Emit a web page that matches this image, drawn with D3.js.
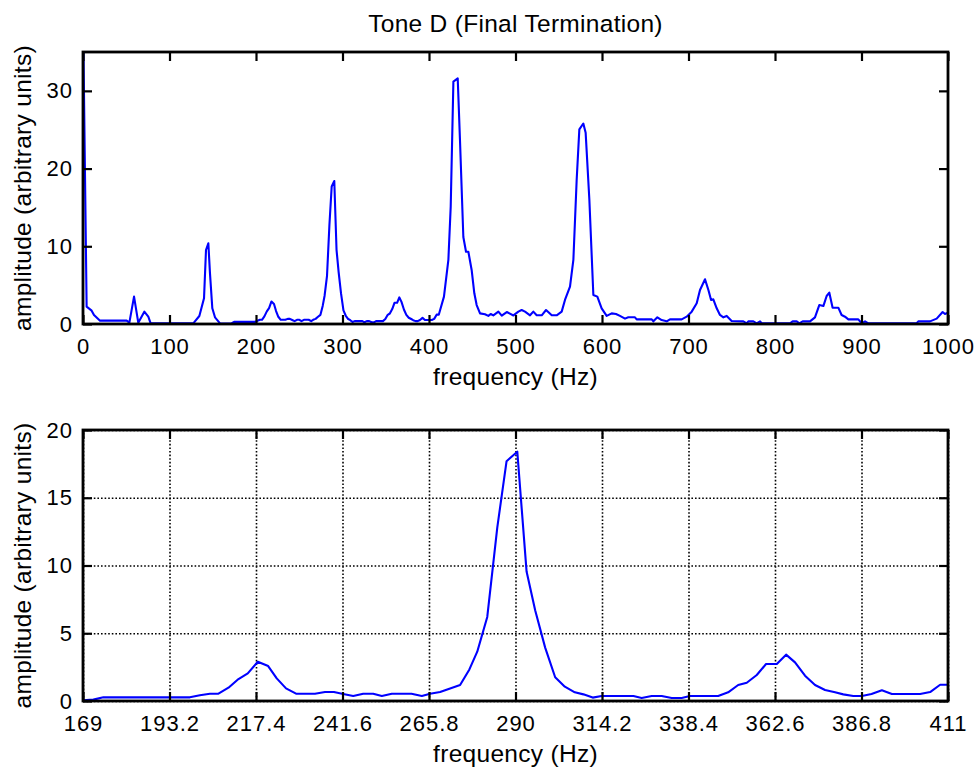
<!DOCTYPE html>
<html>
<head>
<meta charset="utf-8">
<script src="https://cdn.jsdelivr.net/npm/d3@7"></script>
<style>
body { margin: 0; background: #fff; }
svg { font-family: "Liberation Sans", Arial, sans-serif; background: #fff; }
.frame { fill: none; stroke: #000; stroke-width: 2.8; }
.axis .domain { display: none; }
.axis .tick line { stroke: #000; stroke-width: 2.2; }
.axis .tick text { font-size: 22px; letter-spacing: 1px; fill: #000; font-family: "Liberation Sans", Arial, sans-serif; }
.grid .domain { display: none; }
.grid .tick line { stroke: #000; stroke-width: 1.6; stroke-dasharray: 1.6,2; }
.spectrum { fill: none; stroke: #0000ff; stroke-width: 2.1; stroke-linejoin: round; }
.label { font-size: 24.5px; letter-spacing: 0.3px; fill: #000; }
</style>
</head>
<body>
<div id="chart-container"></div>
<script>
// spectrum (Hz, amplitude)
var freq = [0, 4.2, 10, 12.7, 19.7, 50.5, 53.6, 59.0, 63.9, 70.9, 75.5, 78.2, 127.5, 134.5, 139.9, 142.2, 144.9, 146.8, 149.5, 152.6, 158.4,
  169.0, 171.9, 174.7, 198.9, 201.7, 204.5, 206.9, 209.7, 212.5, 215.1, 217.9, 220.8, 223.2, 225.8, 228.6, 233.9, 236.7, 239.2, 241.8,
  244.6, 247.4, 250.2, 252.6, 255.4, 260.9, 263.8, 266.1, 268.9, 271.7, 274.5, 277.1, 279.3, 282.1, 284.9, 287.5, 290.5, 293.1, 295.5,
  298.3, 301.1, 303.8, 306.6, 309.0, 311.6, 314.1, 323.0, 325.3, 328.1, 330.9, 333.7, 336.5, 338.8, 346.7, 349.5, 352.3, 354.7, 357.5,
  360.1, 363.1, 365.7, 368.2, 371.0, 373.8, 376.6, 379.4, 381.7, 384.5, 386.9, 389.6, 392.5, 395.3, 403.2, 406.0, 408.8, 411.3,
  417.3, 422.4, 425.1, 428.2, 433.2, 435.8, 439.7, 442.8, 445.5, 449.3, 452.4, 455.1, 459.0, 464.7, 468.6, 471.3, 474.4, 480.2, 484.1,
  489.9, 497.6, 503.3, 507.1, 511.0, 516.8, 520.6, 524.5, 530.3, 535.3, 541.9, 547.6, 553.4, 557.2, 563.0, 566.9, 570.7, 573.8, 578.4,
  581.1, 585.4, 590.0, 594.6, 599.6, 605.4, 611.2, 616.2, 620.8, 626.6, 630.4, 638.1, 640.1, 657.5, 659.4, 664.0, 669.0, 674.8, 678.6,
  692.1, 697.9, 703.7, 709.5, 713.3, 719.1, 723.0, 726.1, 728.7, 732.6, 736.4, 740.3, 744.2, 749.9, 763.4, 767.3, 769.2, 775.0, 778.8,
  782.7, 784.6, 817.4, 820.4, 825.1, 828.1, 832.0, 840.5, 846.2, 851.2, 855.9, 859.7, 862.8, 866.6, 873.2, 877.0, 880.9, 884.8, 896.3,
  900.2, 904.1, 907.9, 963.8, 965.7, 979.2, 986.9, 993.8, 996.5, 1000];
var amp = [40, 2.23, 1.72, 1.16, 0.43, 0.43, 0.17, 3.52, 0.17, 1.59, 0.94, 0.09, 0.09, 1.03, 3.3, 9.52, 10.39, 6.52, 2.02, 0.86, 0.09,
  0.05, 0.10, 0.27, 0.27, 0.42, 0.54, 0.54, 0.98, 1.62, 2.04, 2.90, 2.58, 1.67, 0.93, 0.54, 0.54, 0.66, 0.66, 0.52,
  0.37, 0.54, 0.54, 0.37, 0.54, 0.54, 0.37, 0.54, 0.66, 0.93, 1.18, 2.33, 3.64, 6.2, 12.8, 17.7, 18.4, 9.55, 6.7,
  3.94, 1.75, 1.06, 0.64, 0.49, 0.25, 0.37, 0.37, 0.22, 0.37, 0.37, 0.22, 0.22, 0.37, 0.37, 0.64, 1.18, 1.35, 1.92,
  2.73, 2.73, 3.42, 2.85, 1.87, 1.18, 0.81, 0.64, 0.49, 0.37, 0.37, 0.52, 0.79, 0.52, 0.52, 0.66, 1.20, 1.20,
  3.52, 8.24, 15.1, 31.2, 31.6, 23.7, 11.2, 9.3, 9.3, 6.95, 3.95, 2.44, 1.37, 1.25, 1.04, 1.29, 1.10, 1.59, 1.07,
  1.54, 1.10, 1.59, 1.80, 1.59, 1.12, 1.59, 1.12, 1.12, 1.80, 1.12, 1.12, 1.59, 3.09, 4.80, 8.24, 18.5, 25.05, 25.8,
  24.6, 15.96, 3.73, 3.52, 2.02, 1.04, 1.37, 1.29, 1.04, 0.69, 0.86, 0.86, 0.60, 0.60, 0.34, 0.86, 0.51, 0.34, 0.60,
  0.60, 0.94, 1.59, 2.66, 4.38, 5.75, 4.38, 3.09, 3.17, 2.02, 1.16, 0.86, 1.04, 0.39, 0.34, 0.09, 0.34, 0.34, 0.09,
  0.34, 0.09, 0.09, 0.34, 0.34, 0.09, 0.34, 0.34, 0.86, 2.44, 2.31, 3.60, 4.03, 2.10, 2.10, 1.16, 0.94, 0.60, 0.60,
  0.09, 0.34, 0.09, 0.09, 0.34, 0.34, 0.69, 1.54, 1.29, 1.46];

var fullXTicks = [0, 100, 200, 300, 400, 500, 600, 700, 800, 900, 1000];
var fullYTicks = [0, 10, 20, 30];
var zoomXTicks = [169, 193.2, 217.4, 241.6, 265.8, 290, 314.2, 338.4, 362.6, 386.8, 411];
var zoomYTicks = [0, 5, 10, 15, 20];

var titleText = "Tone D (Final Termination)";
var xLabel = "frequency (Hz)";
var yLabel = "amplitude (arbitrary units)";

var W = 979, H = 769;
var left = 83, right = 948;
var tick = 9;

var svg = d3.select("#chart-container")
  .append("svg")
    .attr("width", W)
    .attr("height", H);

var data = freq.map(function(f, i) { return {f: f, a: amp[i]}; });

function panel(id, top, bottom, xDomain, yDomain, xTicks, yTicks, grid) {
  var x = d3.scaleLinear().domain(xDomain).range([left, right]);
  var y = d3.scaleLinear().domain(yDomain).range([bottom, top]);

  var g = svg.append("g").attr("class", "panel");

  g.append("clipPath")
      .attr("id", id)
    .append("rect")
      .attr("x", left)
      .attr("y", top)
      .attr("width", right - left)
      .attr("height", bottom - top);

  if (grid) {
    g.append("g")
        .attr("class", "grid")
        .attr("transform", "translate(0," + bottom + ")")
        .call(d3.axisBottom(x).tickValues(xTicks).tickSize(-(bottom - top)).tickFormat(""));
    g.append("g")
        .attr("class", "grid")
        .attr("transform", "translate(" + left + ",0)")
        .call(d3.axisLeft(y).tickValues(yTicks).tickSize(-(right - left)).tickFormat(""));
  }

  var line = d3.line()
      .x(function(d) { return x(d.f); })
      .y(function(d) { return y(d.a); });

  g.append("path")
      .datum(data)
      .attr("class", "spectrum")
      .attr("clip-path", "url(#" + id + ")")
      .attr("d", line);

  g.append("g")
      .attr("class", "axis")
      .attr("transform", "translate(0," + bottom + ")")
      .call(d3.axisBottom(x).tickValues(xTicks).tickSize(-tick).tickPadding(14).tickFormat(function(d) { return String(d); }));
  g.append("g")
      .attr("class", "axis")
      .attr("transform", "translate(0," + top + ")")
      .call(d3.axisTop(x).tickValues(xTicks).tickSize(-tick).tickFormat(""));
  g.append("g")
      .attr("class", "axis")
      .attr("transform", "translate(" + left + ",0)")
      .call(d3.axisLeft(y).tickValues(yTicks).tickSize(-tick).tickPadding(10));
  g.append("g")
      .attr("class", "axis")
      .attr("transform", "translate(" + right + ",0)")
      .call(d3.axisRight(y).tickValues(yTicks).tickSize(-tick).tickFormat(""));

  g.append("rect")
      .attr("class", "frame")
      .attr("x", left)
      .attr("y", top)
      .attr("width", right - left)
      .attr("height", bottom - top);

  g.append("text")
      .attr("class", "label")
      .attr("x", (left + right) / 2)
      .attr("y", bottom + 61)
      .attr("text-anchor", "middle")
      .text(xLabel);

  g.append("text")
      .attr("class", "label")
      .attr("transform", "translate(31," + (top + bottom) / 2 + ") rotate(-90)")
      .attr("text-anchor", "middle")
      .text(yLabel);
}

panel("clip-full", 52, 324, [0, 1000], [0, 35], fullXTicks, fullYTicks, false);
panel("clip-zoom", 430, 701, [169, 411], [0, 20], zoomXTicks, zoomYTicks, true);

svg.append("text")
    .attr("class", "label")
    .attr("x", (left + right) / 2)
    .attr("y", 32)
    .attr("text-anchor", "middle")
    .text(titleText);
</script>
</body>
</html>
